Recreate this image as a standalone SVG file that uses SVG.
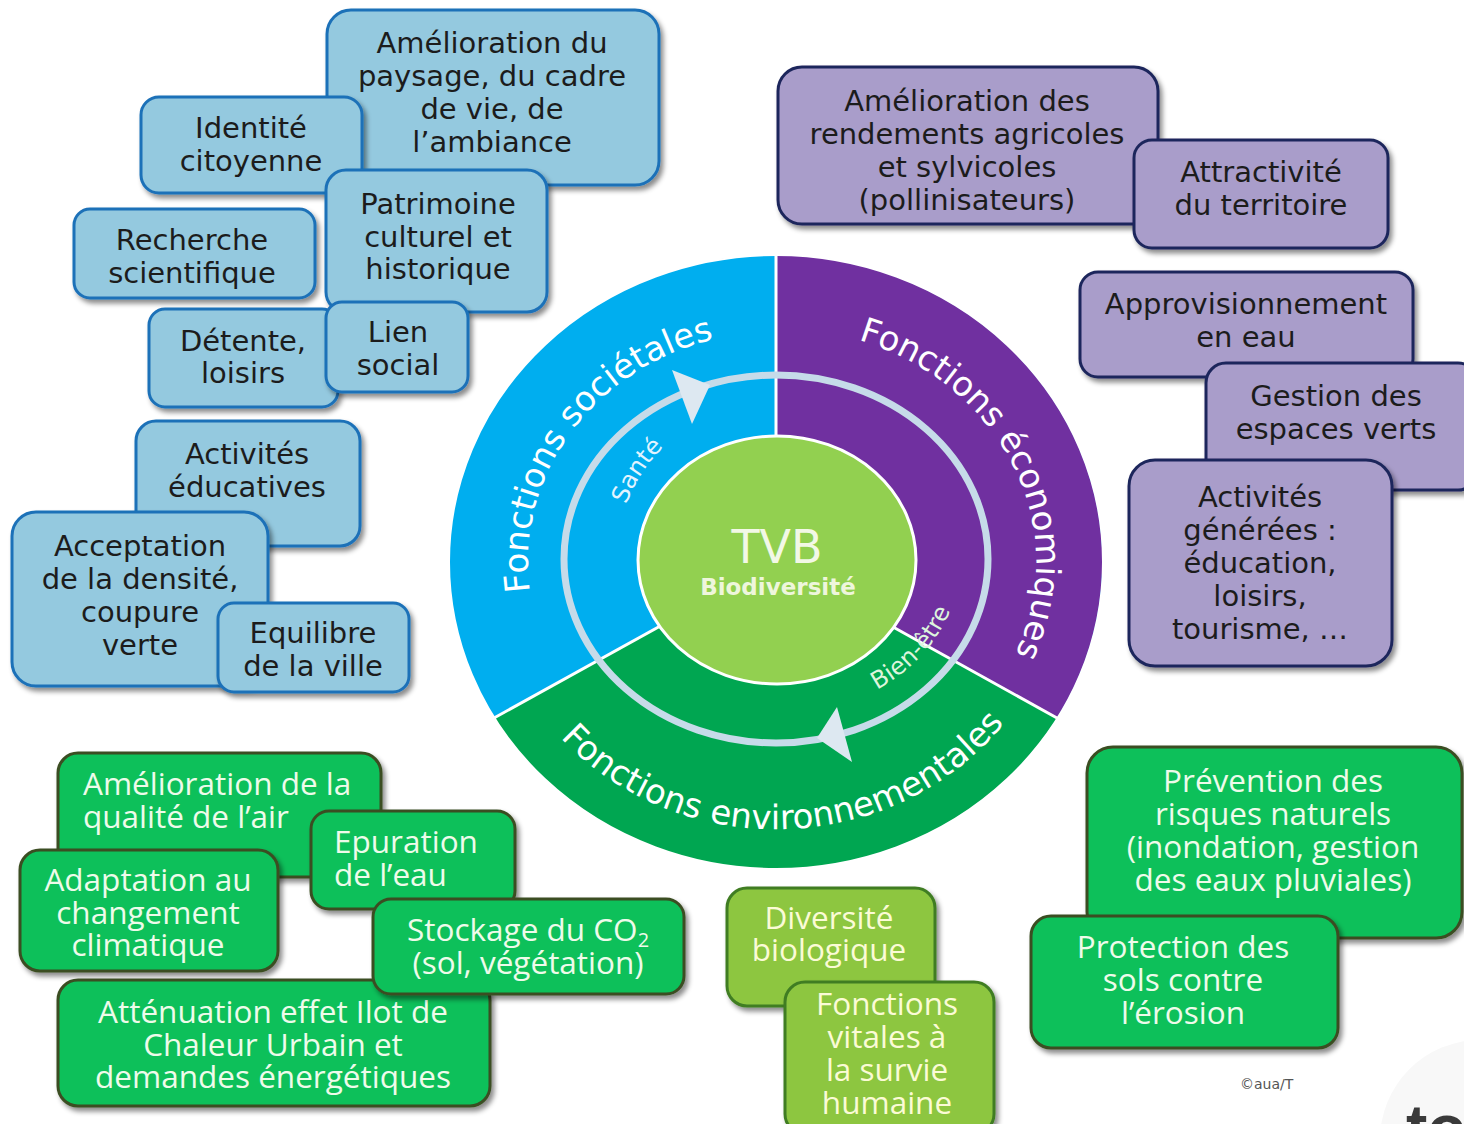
<svg xmlns="http://www.w3.org/2000/svg" width="1464" height="1124" viewBox="0 0 1464 1124">
<defs>
<filter id="sh" x="-10%" y="-10%" width="130%" height="135%">
<feDropShadow dx="3" dy="4" stdDeviation="2.5" flood-color="#000" flood-opacity="0.45"/>
</filter>
<path id="p-soc" d="M561.2,677 A248,230 0 0,1 900,362.8"/>
<path id="p-eco" d="M666.1,349.9 A260,234 0 0,1 925.1,753.7"/>
<path id="p-env" d="M494.3,608.4 A286,267 0 0,0 1057.7,608.4"/>
<path id="p-san" d="M637.4,641 A160,160 0 0,1 856,422.4"/>
<path id="p-bien" d="M744.05,712.66 A184,154 0 0,0 868,427.63"/>
<style>
.bb{fill:#94c9df;stroke:#1d71b8;stroke-width:3;filter:url(#sh)}
.pb{fill:#a99dca;stroke:#1f275c;stroke-width:3;filter:url(#sh)}
.gb{fill:#0cc05a;stroke:#3b4d22;stroke-width:3;filter:url(#sh)}
.lb{fill:#8dc641;stroke:#3f7d24;stroke-width:3;filter:url(#sh)}
.tb{font-family:"DejaVu Sans","Liberation Sans",sans-serif;font-size:29px;fill:#1c1c1c;text-anchor:middle}
.tg{font-family:"Open Sans","Liberation Sans",sans-serif;font-size:31.5px;fill:#eefbea;text-anchor:middle}
.tl{font-family:"Open Sans","Liberation Sans",sans-serif;font-size:31.5px;fill:#fbfbd6;text-anchor:middle}
.left{text-anchor:start}
.arc{font-family:"DejaVu Sans","Liberation Sans",sans-serif;font-size:34px;fill:#ffffff}
.small{font-family:"DejaVu Sans","Liberation Sans",sans-serif;font-size:24px}
.div{stroke:#ffffff;stroke-width:3}
</style>
</defs>
<rect width="1464" height="1124" fill="#ffffff"/>
<circle cx="1480" cy="1140" r="100" fill="#f8f8f8"/>

<g id="wheel">
<ellipse cx="776" cy="562" rx="327" ry="307" fill="#00aeef"/>
<path d="M776,562 L776,255 A327,307 0 0,1 1057,718 Z" fill="#7030a0"/>
<path d="M776,562 L1057,718 A327,307 0 0,1 494,718 Z" fill="#00a651"/>
<ellipse cx="776" cy="562" rx="327" ry="307" fill="none" stroke="#ffffff" stroke-width="2"/>
<line class="div" x1="776" y1="255" x2="776" y2="562"/>
<line class="div" x1="776" y1="562" x2="494" y2="718"/>
<line class="div" x1="776" y1="562" x2="1057" y2="718"/>
<ellipse cx="776" cy="559" rx="212" ry="184" fill="none" stroke="#c6dbe9" stroke-width="7"/>
<polygon points="672,370 692,424 710,385" fill="#dde8f1"/>
<polygon points="837,707 852,762 817,738" fill="#dde8f1"/>
<ellipse cx="777" cy="560" rx="139" ry="124" fill="#92d050" stroke="#ffffff" stroke-width="3"/>
<text x="777" y="563" font-family="DejaVu Sans, Liberation Sans, sans-serif" font-size="46" fill="#f2f8e6" text-anchor="middle">TVB</text>
<text x="778" y="595" font-family="DejaVu Sans, Liberation Sans, sans-serif" font-size="23" font-weight="bold" fill="#eef6dc" text-anchor="middle">Biodiversité</text>
<text class="arc"><textPath href="#p-soc" startOffset="42%" text-anchor="middle">Fonctions sociétales</textPath></text>
<text class="arc" font-size="31"><textPath href="#p-eco" startOffset="54.1%" text-anchor="middle">Fonctions économiques</textPath></text>
<text class="arc"><textPath href="#p-env" startOffset="51.25%" text-anchor="middle">Fonctions environnementales</textPath></text>
<text class="small" fill="#e3f4ff"><textPath href="#p-san" startOffset="42%" text-anchor="middle">Santé</textPath></text>
<text class="small" font-size="26" fill="#ddf5dd"><textPath href="#p-bien" startOffset="41%" text-anchor="middle">Bien-être</textPath></text>
</g>

<g id="connectors"></g>

<g id="societal">
<g id="b-paysage"><rect class="bb" x="327" y="10" width="332" height="175" rx="24"/>
<text class="tb"><tspan x="492" y="53">Amélioration du</tspan><tspan x="492" y="86">paysage, du cadre</tspan><tspan x="492" y="119">de vie, de</tspan><tspan x="492" y="152">l’ambiance</tspan></text></g>
<g id="b-identite"><rect class="bb" x="141" y="97" width="221" height="96" rx="18"/>
<text class="tb"><tspan x="251" y="138">Identité</tspan><tspan x="251" y="171">citoyenne</tspan></text></g>
<g id="b-patrimoine"><rect class="bb" x="326" y="170" width="221" height="142" rx="20"/>
<text class="tb"><tspan x="438" y="214">Patrimoine</tspan><tspan x="438" y="247">culturel et</tspan><tspan x="438" y="279">historique</tspan></text></g>
<g id="b-recherche"><rect class="bb" x="74" y="209" width="241" height="89" rx="16"/>
<text class="tb"><tspan x="192" y="250">Recherche</tspan><tspan x="192" y="283">scientifique</tspan></text></g>
<g id="b-detente"><rect class="bb" x="149" y="309" width="189" height="98" rx="16"/>
<text class="tb"><tspan x="243" y="351">Détente,</tspan><tspan x="243" y="383">loisirs</tspan></text></g>
<g id="b-lien"><rect class="bb" x="326" y="302" width="142" height="90" rx="16"/>
<text class="tb"><tspan x="398" y="342">Lien</tspan><tspan x="398" y="375">social</tspan></text></g>
<g id="b-educatives"><rect class="bb" x="136" y="421" width="224" height="125" rx="20"/>
<text class="tb"><tspan x="247" y="464">Activités</tspan><tspan x="247" y="497">éducatives</tspan></text></g>
<g id="b-densite"><rect class="bb" x="12" y="512" width="256" height="174" rx="24"/>
<text class="tb"><tspan x="140" y="556">Acceptation</tspan><tspan x="140" y="589">de la densité,</tspan><tspan x="140" y="622">coupure</tspan><tspan x="140" y="655">verte</tspan></text></g>
<g id="b-equilibre"><rect class="bb" x="218" y="603" width="191" height="89" rx="16"/>
<text class="tb"><tspan x="313" y="643">Equilibre</tspan><tspan x="313" y="676">de la ville</tspan></text></g>
</g>

<g id="economic">
<g id="b-rendements"><rect class="pb" x="778" y="67" width="380" height="157" rx="24"/>
<text class="tb"><tspan x="967" y="111">Amélioration des</tspan><tspan x="967" y="144">rendements agricoles</tspan><tspan x="967" y="177">et sylvicoles</tspan><tspan x="967" y="210">(pollinisateurs)</tspan></text></g>
<g id="b-attractivite"><rect class="pb" x="1134" y="140" width="254" height="108" rx="18"/>
<text class="tb"><tspan x="1261" y="182">Attractivité</tspan><tspan x="1261" y="215">du territoire</tspan></text></g>
<g id="b-eau"><rect class="pb" x="1080" y="272" width="333" height="105" rx="18"/>
<text class="tb"><tspan x="1246" y="314">Approvisionnement</tspan><tspan x="1246" y="347">en eau</tspan></text></g>
<g id="b-espaces"><rect class="pb" x="1206" y="363" width="272" height="127" rx="20"/>
<text class="tb"><tspan x="1336" y="406">Gestion des</tspan><tspan x="1336" y="439">espaces verts</tspan></text></g>
<g id="b-activites"><rect class="pb" x="1129" y="460" width="263" height="206" rx="26"/>
<text class="tb"><tspan x="1260" y="507">Activités</tspan><tspan x="1260" y="540">générées :</tspan><tspan x="1260" y="573">éducation,</tspan><tspan x="1260" y="606">loisirs,</tspan><tspan x="1260" y="639">tourisme, …</tspan></text></g>
</g>

<g id="environmental">
<g id="b-air"><rect class="gb" x="58" y="753" width="323" height="124" rx="20"/>
<text class="tg left"><tspan x="83" y="795">Amélioration de la</tspan><tspan x="83" y="828">qualité de l’air</tspan></text></g>
<g id="b-epuration"><rect class="gb" x="311" y="811" width="204" height="98" rx="18"/>
<text class="tg left"><tspan x="334" y="853">Epuration</tspan><tspan x="334" y="886">de l’eau</tspan></text></g>
<g id="b-adaptation"><rect class="gb" x="20" y="850" width="258" height="121" rx="20"/>
<text class="tg"><tspan x="148" y="891">Adaptation au</tspan><tspan x="148" y="924">changement</tspan><tspan x="148" y="956">climatique</tspan></text></g>
<g id="b-ilot"><rect class="gb" x="58" y="980" width="432" height="126" rx="20"/>
<text class="tg"><tspan x="273" y="1023">Atténuation effet Ilot de</tspan><tspan x="273" y="1056">Chaleur Urbain et</tspan><tspan x="273" y="1088">demandes énergétiques</tspan></text></g>
<g id="b-co2"><rect class="gb" x="373" y="899" width="311" height="95" rx="18"/>
<text class="tg"><tspan x="528" y="941">Stockage du CO<tspan font-size="20" dy="6">2</tspan></tspan><tspan x="528" y="974">(sol, végétation)</tspan></text></g>
<g id="b-risques"><rect class="gb" x="1087" y="747" width="375" height="191" rx="26"/>
<text class="tg"><tspan x="1273" y="792">Prévention des</tspan><tspan x="1273" y="825">risques naturels</tspan><tspan x="1273" y="858">(inondation, gestion</tspan><tspan x="1273" y="891">des eaux pluviales)</tspan></text></g>
<g id="b-sols"><rect class="gb" x="1031" y="916" width="307" height="132" rx="20"/>
<text class="tg"><tspan x="1183" y="958">Protection des</tspan><tspan x="1183" y="991">sols contre</tspan><tspan x="1183" y="1024">l’érosion</tspan></text></g>
<g id="b-diversite"><rect class="lb" x="727" y="888" width="208" height="118" rx="20"/>
<text class="tl"><tspan x="829" y="929">Diversité</tspan><tspan x="829" y="961">biologique</tspan></text></g>
<g id="b-vitales"><rect class="lb" x="785" y="982" width="209" height="152" rx="20"/>
<text class="tl"><tspan x="887" y="1015">Fonctions</tspan><tspan x="887" y="1048">vitales à</tspan><tspan x="887" y="1081">la survie</tspan><tspan x="887" y="1114">humaine</tspan></text></g>
</g>

<text x="1240" y="1089" font-family="DejaVu Sans, Liberation Sans, sans-serif" font-size="14" fill="#555555">©aua/T</text>
<text x="1406" y="1150" font-family="Liberation Sans, Arial, sans-serif" font-size="64" font-weight="bold" fill="#3a3a3a">to</text>
</svg>
